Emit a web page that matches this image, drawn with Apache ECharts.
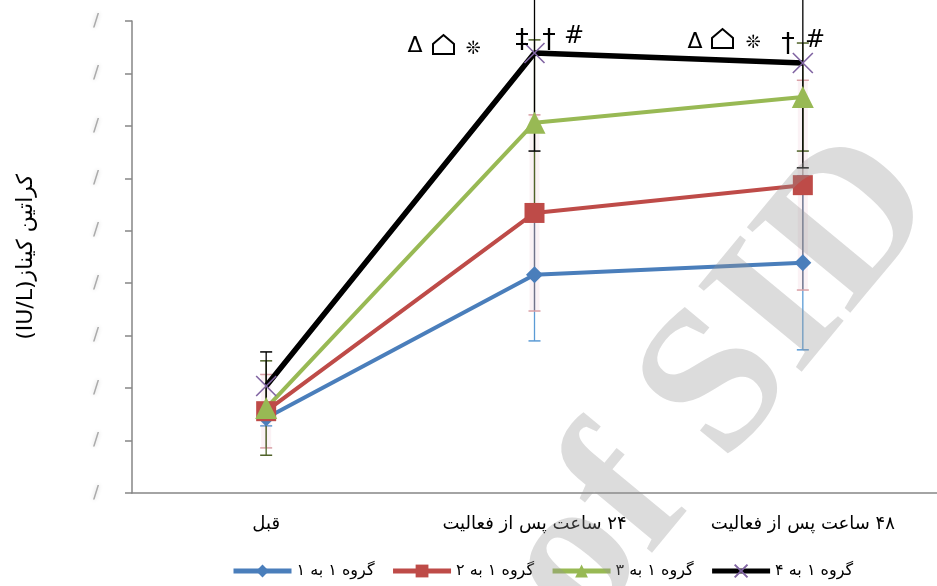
<!DOCTYPE html>
<html>
<head>
<meta charset="utf-8">
<script src="https://cdn.jsdelivr.net/npm/echarts@6/dist/echarts.min.js"></script>
<style>
html,body{margin:0;padding:0;background:#fff;}
#chart{width:937px;height:586px;}
</style>
</head>
<body>
<div id="chart"></div>
<script>
// داده ها
var categories = ['قبل', '۲۴ ساعت پس از فعالیت', '۴۸ ساعت پس از فعالیت'];
var groupNames = ['گروه ۱ به ۱', 'گروه ۱ به ۲', 'گروه ۱ به ۳', 'گروه ۱ به ۴'];
var g1 = [1.43, 4.16, 4.39];
var g2 = [1.56, 5.34, 5.87];
var g3 = [1.62, 7.06, 7.55];
var g4 = [2.04, 8.39, 8.20];
var g1Err = [0.15, 1.26, 1.66];
var g2Err = [0.70, 1.87, 2.00];
var g3Err = [0.90, 1.58, 1.03];
var g4Err = [0.65, 1.87, 2.00];
var yTickLabels = ['/', '/', '/', '/', '/', '/', '/', '/', '/', '/'];
var yAxisTitle = 'کراتین کیناز(IU/L)';

var colors = ['#4a7ebb', '#be4b48', '#98b954', '#000000'];
var errColors = ['#5b9bd5', '#d9a0a6', '#4f6228', '#000000'];
var symbols = ['diamond', 'rect', 'triangle', 'path://M0,0L10,10M10,0L0,10'];
var symbolSizes = [17, 20, 22, 20];
var values = [g1, g2, g3, g4];
var errs = [g1Err, g2Err, g3Err, g4Err];

var font = 'DejaVu Sans';
function rtl(s){ return '\u202B' + s + '\u202C'; }

var myChart = echarts.init(document.getElementById('chart'));

// میله خطا
function errSeries(idx){
	var d = [];
	for (var i = 0; i < categories.length; i++){
		d.push([i, values[idx][i], errs[idx][i]]);
	}
	return {
		type: 'custom',
		name: 'err' + idx,
		z: 1,
		silent: true,
		data: d,
		renderItem: function(params, api){
			var v = api.value(1), e = api.value(2);
			var top = api.coord([api.value(0), v + e]);
			var bot = api.coord([api.value(0), v - e]);
			var c = errColors[idx];
			var kids = [];
			if (idx == 1){
				kids.push({type: 'rect', shape: {x: top[0] - 5, y: top[1], width: 10, height: bot[1] - top[1]},
					style: {fill: 'rgba(220,150,170,0.12)'}});
			}
			kids.push({type: 'line', shape: {x1: top[0], y1: top[1], x2: bot[0], y2: bot[1]},
				style: {stroke: idx == 1 ? 'rgba(120,90,90,0.6)' : c, lineWidth: 1.3}});
			kids.push({type: 'line', shape: {x1: top[0] - 6, y1: top[1], x2: top[0] + 6, y2: top[1]},
				style: {stroke: c, lineWidth: 1.5}});
			kids.push({type: 'line', shape: {x1: bot[0] - 6, y1: bot[1], x2: bot[0] + 6, y2: bot[1]},
				style: {stroke: c, lineWidth: 1.5}});
			return {type: 'group', children: kids};
		}
	};
}

var series = [];
for (var k = 0; k < 4; k++){
	series.push(errSeries(k));
}
for (var k = 0; k < 4; k++){
	series.push({
		name: groupNames[k],
		type: 'line',
		z: 3,
		data: values[k],
		symbol: symbols[k],
		symbolSize: symbolSizes[k],
		showAllSymbol: true,
		lineStyle: {color: colors[k], width: k == 3 ? 5.5 : 4},
		itemStyle: k == 3 ? {color: '#8064a2', borderColor: '#8064a2', borderWidth: 1.6} : {color: colors[k]},
		emphasis: {disabled: true}
	});
}

// نشانه های معناداری
function mark(txt, x, y, size){
	return {type: 'text', x: x, y: y, z: 10, silent: true,
		style: {text: txt, fontFamily: font, fontSize: size, fill: '#000', align: 'center', verticalAlign: 'middle'}};
}
function house(x, y){
	return {type: 'polygon', z: 10, silent: true,
		shape: {points: [[x, y + 19], [x, y + 9], [x + 10.5, y], [x + 21, y + 9], [x + 21, y + 19]]},
		style: {fill: 'none', stroke: '#000', lineWidth: 2}};
}

var option = {
	backgroundColor: '#fff',
	animation: false,
	grid: {left: 132, top: 21, bottom: 93, right: -8},
	legend: {
		data: groupNames,
		left: 226,
		top: 558,
		itemWidth: 58,
		itemHeight: 16,
		itemGap: 16,
		lineStyle: {width: 5},
		textStyle: {fontFamily: font, fontSize: 16, color: '#000'}
	},
	xAxis: {
		type: 'category',
		data: categories,
		axisLine: {lineStyle: {color: '#868686', width: 1.5}},
		axisTick: {length: 6, lineStyle: {color: '#868686', width: 1.5}},
		axisLabel: {fontFamily: font, fontSize: 18, color: '#000', margin: 22,
			formatter: function(v){ return rtl(v); }}
	},
	yAxis: {
		type: 'value',
		min: 0,
		max: 9,
		interval: 1,
		name: rtl(yAxisTitle),
		nameLocation: 'middle',
		nameRotate: 90,
		nameGap: 95,
		nameTextStyle: {fontFamily: font, fontSize: 22, color: '#000'},
		splitLine: {show: false},
		axisLine: {show: true, lineStyle: {color: '#868686', width: 1.5}},
		axisTick: {show: true, length: 7, lineStyle: {color: '#868686', width: 1.5}},
		axisLabel: {
			margin: 33,
			fontFamily: font,
			fontSize: 18,
			color: '#aaa',
			textShadowColor: '#ccc',
			textShadowBlur: 4,
			formatter: function(v){ return yTickLabels[Math.round(v)]; }
		}
	},
	graphic: [
		mark('Δ', 415, 46, 22),
		house(433, 35),
		mark('❊', 473, 49, 18),
		mark('‡', 522, 41, 27),
		mark('†', 549, 41, 27),
		mark('#', 574, 37, 24),
		mark('Δ', 695, 42, 22),
		house(712, 29),
		mark('❊', 753, 43, 18),
		mark('†', 788, 45, 27),
		mark('#', 815, 41, 24),
		// watermark
		{type: 'text', x: 722, y: 385, rotation: 0.88, z: 20, silent: true,
			style: {text: 'of SID', fontFamily: 'Liberation Serif', fontWeight: 'bold', fontSize: 205,
				fill: 'rgba(150,150,150,0.33)', align: 'center', verticalAlign: 'middle'}}
	],
	series: series
};
myChart.setOption(option);
</script>
</body>
</html>
